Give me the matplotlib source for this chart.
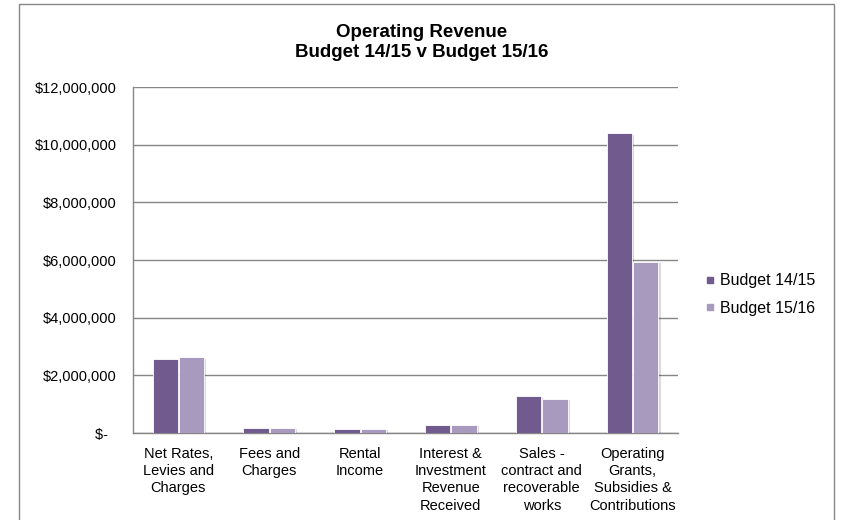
import matplotlib
matplotlib.use("Agg")
import matplotlib.pyplot as plt
import matplotlib.patheffects as pe
from matplotlib.patches import Rectangle
from matplotlib.lines import Line2D
from matplotlib.ticker import FuncFormatter
import numpy as np

plt.rcParams['font.family'] = ['Liberation Sans', 'DejaVu Sans']

categories = [
    "Net Rates,\nLevies and\nCharges",
    "Fees and\nCharges",
    "Rental\nIncome",
    "Interest &\nInvestment\nRevenue\nReceived",
    "Sales -\ncontract and\nrecoverable\nworks",
    "Operating\nGrants,\nSubsidies &\nContributions",
]
budget_1415 = [2580000, 190000, 140000, 290000, 1270000, 10390000]
budget_1516 = [2630000, 180000, 140000, 290000, 1180000, 5930000]
series_names = ["Budget 14/15", "Budget 15/16"]
colors = ["#705A8E", "#A899BF"]


def money(v, pos):
    if v == 0:
        return "$-  "
    return "${:,.0f}".format(v)


fig = plt.figure(figsize=(8.43, 5.2), dpi=100)
ax = fig.add_axes([133 / 843, 1 - 433 / 520, 545 / 843, 346 / 520])

x = np.arange(len(categories))
width = 0.28
shadow = [pe.SimplePatchShadow(offset=(1.5, -1), alpha=0.18), pe.Normal()]
for i, (vals, name) in enumerate(zip([budget_1415, budget_1516], series_names)):
    offs = (i - 0.5) * (width + 0.01)
    bars = ax.bar(x + offs, vals, width, color=colors[i], label=name,
                  edgecolor="white", linewidth=0.6, zorder=3)
    for b in bars:
        b.set_path_effects(shadow)

ax.set_xlim(-0.5, len(categories) - 0.5)
ax.set_ylim(0, 12000000)
ax.set_yticks(np.arange(0, 12000001, 2000000))
ax.yaxis.set_major_formatter(FuncFormatter(money))
ax.set_xticks(x)
ax.set_xticklabels(categories, fontsize=10.5, linespacing=1.3)
ax.tick_params(axis="both", length=0, labelsize=10.5, colors="black")
ax.tick_params(axis="x", pad=10)
ax.tick_params(axis="y", pad=12)
ax.grid(axis="y", color="#868686", linewidth=1.0, zorder=0)
ax.set_axisbelow(True)
for s in ["top", "right"]:
    ax.spines[s].set_visible(False)
for s in ["left", "bottom"]:
    ax.spines[s].set_color("#868686")
    ax.spines[s].set_linewidth(1.0)

fig.text(0.5, 1 - 42.5 / 520, "Operating Revenue\nBudget 14/15 v Budget 15/16",
         ha="center", va="center", fontsize=13.5, fontweight="bold",
         linespacing=1.2)

handles = [Line2D([], [], marker="s", markersize=5, linestyle="none",
                  color=c) for c in colors]
ax.legend(handles, series_names, loc="center left",
          bbox_to_anchor=(705 / 843, 1 - 294.5 / 520),
          bbox_transform=fig.transFigure, frameon=False, fontsize=11.5,
          handlelength=0.6, handletextpad=0.35, labelspacing=0.8,
          borderpad=0, borderaxespad=0)

fig.patches.append(Rectangle((19 / 843, -0.1), 815 / 843, 1.1 - 4 / 520,
                             transform=fig.transFigure, fill=False,
                             edgecolor="#868686", linewidth=1.0))

fig.savefig("out.png", dpi=100)
